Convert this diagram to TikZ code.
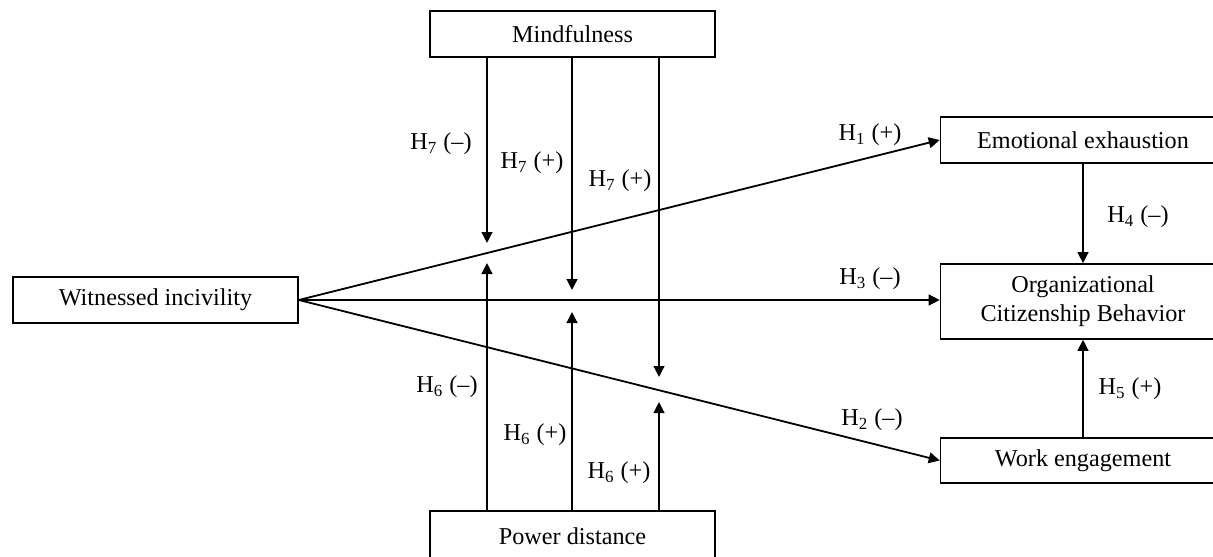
\documentclass[tikz,border=0pt]{standalone}
\usepackage{fontspec}
\setmainfont{Liberation Serif}
\usetikzlibrary{arrows.meta}
\begin{document}
\begin{tikzpicture}[x=0.5pt,y=-0.5pt,
  box/.style={draw,line width=0.8pt,inner sep=0pt,minimum width=142.5pt,minimum height=23pt,align=center,font=\fontsize{12.1}{14.5}\selectfont},
  arr/.style={line width=0.9pt,-{Triangle[length=5.5pt,width=5.4pt]}},
  lbl/.style={font=\fontsize{12.1}{14.5}\selectfont,inner sep=0pt}]
\useasboundingbox (0,0) rectangle (1213,556);
\clip (0,0) rectangle (1213,556);
\fill[white] (0,0) rectangle (1213,556);
% boxes
\node[box] (mind) at (572.5,34) {Mindfulness};
\node[box] (wi) at (155.5,300) {Witnessed incivility};
\node[box] (ee) at (1083,140) {Emotional exhaustion};
\node[box,minimum height=37.5pt] (ocb) at (1083,301.5) {Organizational\\Citizenship Behavior};
\node[box,minimum height=22.5pt] (we) at (1083,460.5) {Work engagement};
\node[box,minimum height=25pt] (pd) at (572.5,536) {Power distance};
% tip coordinates
\coordinate (m1) at (487,243);
\coordinate (m2) at (572,290);
\coordinate (m3) at (659,377);
\coordinate (p1) at (487,263);
\coordinate (p2) at (572,312);
\coordinate (p3) at (659,402);
% main paths
\draw[arr] (wi.east) -- (ee.west);
\draw[arr] (wi.east) -- (ocb.west |- wi.east);
\draw[arr] (wi.east) -- (we.west);
\draw[arr] (ee.south) -- (ocb.north);
\draw[arr] (we.north) -- (ocb.south);
% moderators
\draw[arr] (mind.south -| m1) -- (m1);
\draw[arr] (mind.south -| m2) -- (m2);
\draw[arr] (mind.south -| m3) -- (m3);
\draw[arr] (pd.north -| p1) -- (p1);
\draw[arr] (pd.north -| p2) -- (p2);
\draw[arr] (pd.north -| p3) -- (p3);
% labels
\node[lbl] (l71) at (441,144) {H\textsubscript{7} (–)};
\node[lbl] (l72) at (532,163) {H\textsubscript{7} (+)};
\node[lbl] (l73) at (620,181) {H\textsubscript{7} (+)};
\node[lbl] (l1) at (870,135) {H\textsubscript{1} (+)};
\node[lbl] (l4) at (1138,217) {H\textsubscript{4} (–)};
\node[lbl] (l3) at (870,279) {H\textsubscript{3} (–)};
\node[lbl] (l5) at (1130,389) {H\textsubscript{5} (+)};
\node[lbl] (l2) at (872,420) {H\textsubscript{2} (–)};
\node[lbl] (l61) at (447,387) {H\textsubscript{6} (–)};
\node[lbl] (l62) at (535,435) {H\textsubscript{6} (+)};
\node[lbl] (l63) at (619,473) {H\textsubscript{6} (+)};
\end{tikzpicture}
\end{document}
